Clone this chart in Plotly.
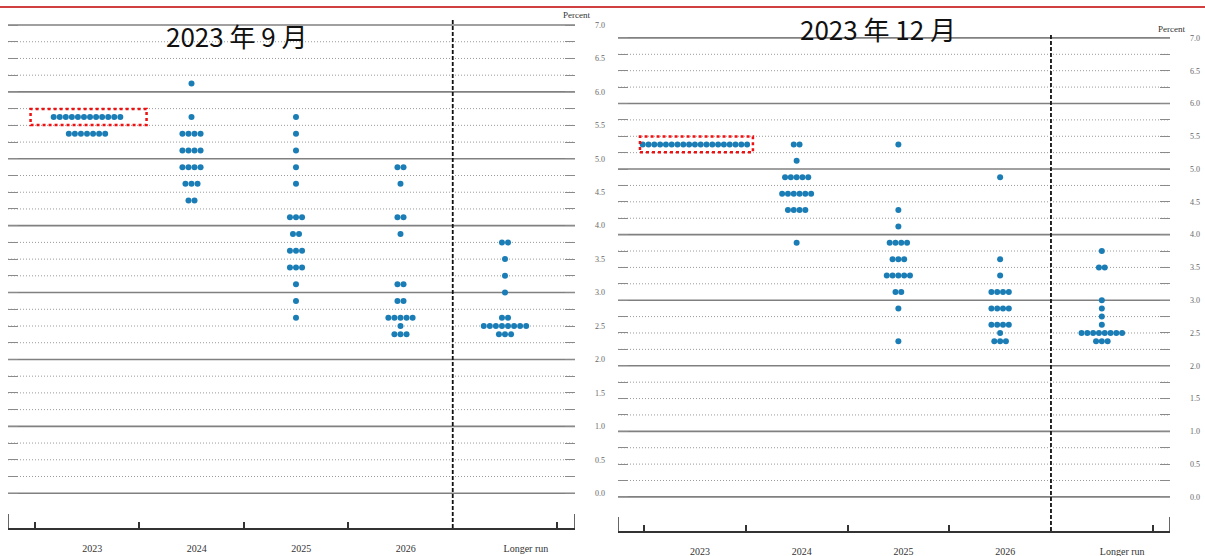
import plotly.graph_objects as go

categories = ["2023", "2024", "2025", "2026", "Longer run"]
panel_titles = ["2023 年 9 月", "2023 年 12 月"]
y_tick_values = [i * 0.25 for i in range(0, 29)]

# September 2023 projections: (midpoint of target range, number of participants)
sep_2023 = [(5.625, 12), (5.375, 7)]
sep_2024 = [(6.125, 1), (5.625, 1), (5.375, 4), (5.125, 4), (4.875, 4), (4.625, 3), (4.375, 2)]
sep_2025 = [(5.625, 1), (5.375, 1), (5.125, 1), (4.875, 1), (4.625, 1), (4.125, 3), (3.875, 2),
            (3.625, 3), (3.375, 3), (3.125, 1), (2.875, 1), (2.625, 1)]
sep_2026 = [(4.875, 2), (4.625, 1), (4.125, 2), (3.875, 1), (3.125, 2), (2.875, 2), (2.625, 5),
            (2.5, 1), (2.375, 3)]
sep_lr = [(3.75, 2), (3.5, 1), (3.25, 1), (3.0, 1), (2.625, 2), (2.5, 8), (2.375, 3)]

# December 2023 projections
dec_2023 = [(5.375, 19)]
dec_2024 = [(5.375, 2), (5.125, 1), (4.875, 5), (4.625, 6), (4.375, 4), (3.875, 1)]
dec_2025 = [(5.375, 1), (4.375, 1), (4.125, 1), (3.875, 4), (3.625, 3), (3.375, 5), (3.125, 2),
            (2.875, 1), (2.375, 1)]
dec_2026 = [(4.875, 1), (3.625, 1), (3.375, 1), (3.125, 4), (2.875, 4), (2.625, 4), (2.5, 1),
            (2.375, 3)]
dec_lr = [(3.75, 1), (3.5, 2), (3.0, 1), (2.875, 1), (2.75, 1), (2.625, 1), (2.5, 8), (2.375, 3)]

sep_panel = [sep_2023, sep_2024, sep_2025, sep_2026, sep_lr]
dec_panel = [dec_2023, dec_2024, dec_2025, dec_2026, dec_lr]

W, H = 1205, 556
X_RANGE = [-0.756, 4.67]
Y_RANGE = [-0.52, 7.075]
DOT = "#1b7db5"

# panel pixel boxes: (left, right, top, bottom), dot spacing in x units
panels = [
    dict(data=sep_panel, title=panel_titles[0], box=(8, 575, 20, 528), sp=0.058,
         title_xy=(237, 35), pct_xy=(576, 15), xa="x", ya="y"),
    dict(data=dec_panel, title=panel_titles[1], box=(618, 1170, 33, 531), sp=0.057,
         title_xy=(878, 28), pct_xy=(1171, 29), xa="x2", ya="y2"),
]

fig = go.Figure()
shapes = []
annotations = []

for p_i, p in enumerate(panels):
    l, r, t, b = p["box"]
    xa, ya = p["xa"], p["ya"]
    xs, ys = [], []
    for ci, col in enumerate(p["data"]):
        for rate, n in col:
            for k in range(n):
                xs.append(ci + (k - (n - 1) / 2) * p["sp"])
                ys.append(rate)
    fig.add_trace(go.Scatter(x=xs, y=ys, mode="markers", xaxis=xa, yaxis=ya,
                             marker=dict(size=6, color=DOT, line=dict(width=0)),
                             showlegend=False, hoverinfo="skip"))

    suffix = "" if p_i == 0 else "2"
    xdom = [l / W, r / W]
    ydom = [1 - b / H, 1 - t / H]
    fig.update_layout(**{
        "xaxis" + suffix: dict(
            domain=xdom, range=X_RANGE, anchor=ya, showgrid=False, zeroline=False,
            showline=True, linecolor="#333", linewidth=1.5,
            tickmode="array", tickvals=[i + 0.05 for i in range(4)] + [4.2],
            ticktext=categories, ticks="", ticklabelstandoff=10,
            tickfont=dict(family="Liberation Serif", size=10, color="#333"),
            minor=dict(tickmode="array", tickvals=[-0.5, 0.5, 1.5, 2.5, 4.5],
                       ticks="inside", ticklen=6, tickcolor="#333", tickwidth=1.5,
                       showgrid=False),
            fixedrange=True),
        "yaxis" + suffix: dict(
            domain=ydom, range=Y_RANGE, anchor=xa, side="right", zeroline=False,
            tickmode="array", tickvals=y_tick_values,
            ticktext=[f"{v:.1f}" if abs(v * 2 - round(v * 2)) < 1e-9 else "" for v in y_tick_values],
            showgrid=False,
            ticks="inside", ticklen=10, tickcolor="#8a8a8a", tickwidth=1, mirror="ticks",
            showline=False, ticklabelstandoff=19,
            tickfont=dict(family="Liberation Serif", size=8, color="#666"),
            fixedrange=True),
    })

    # dotted quarter-point gridlines and solid whole-percent lines
    for v in y_tick_values:
        whole = abs(v - round(v)) < 1e-9
        shapes.append(dict(type="line", xref=xa + " domain", yref=ya, x0=0, x1=1, y0=v, y1=v,
                           line=dict(color="#808080" if whole else "#9a9a9a",
                                     width=1.6 if whole else 1,
                                     dash="solid" if whole else "1px,2px"),
                           layer="below"))
    # dashed separator before longer run
    shapes.append(dict(type="line", xref=xa, yref=ya + " domain", x0=3.5, x1=3.5, y0=0, y1=1,
                       line=dict(color="#111", width=1.8, dash="4px,2px"), layer="above"))
    # tall end ticks
    hgt = 14 / (b - t)
    for xe in X_RANGE:
        shapes.append(dict(type="line", xref=xa, yref=ya + " domain", x0=xe, x1=xe, y0=0, y1=hgt,
                           line=dict(color="#333", width=1.5), layer="above"))
    # red dotted highlight around the 2023 row
    first_rate = p["data"][0][0][0]
    shapes.append(dict(type="rect", xref=xa, yref=ya, x0=-0.54, x1=0.57,
                       y0=first_rate - 0.12, y1=first_rate + 0.12,
                       line=dict(color="#ee1111", width=2.5, dash="dot"), layer="above"))

    tx, ty = p["title_xy"]
    annotations.append(dict(text=p["title"], x=tx / W, y=1 - ty / H, xref="paper", yref="paper",
                            showarrow=False, xanchor="center", yanchor="middle",
                            font=dict(family="Noto Sans CJK SC", size=26, color="#111")))
    px_, py_ = p["pct_xy"]
    annotations.append(dict(text="Percent", x=px_ / W, y=1 - py_ / H, xref="paper", yref="paper",
                            showarrow=False, xanchor="center", yanchor="middle",
                            font=dict(family="Liberation Serif", size=9, color="#333")))

# thin red rule along the top
shapes.append(dict(type="line", xref="paper", yref="paper", x0=0, x1=1, y0=1 - 7 / H, y1=1 - 7 / H,
                   line=dict(color="#c00000", width=1.5)))

fig.update_layout(width=W, height=H, margin=dict(l=0, r=0, t=0, b=0),
                  paper_bgcolor="white", plot_bgcolor="white",
                  shapes=shapes, annotations=annotations, showlegend=False)

fig.write_html("out.html", config={"displayModeBar": False},
               post_script="document.body.style.margin='0px';")
